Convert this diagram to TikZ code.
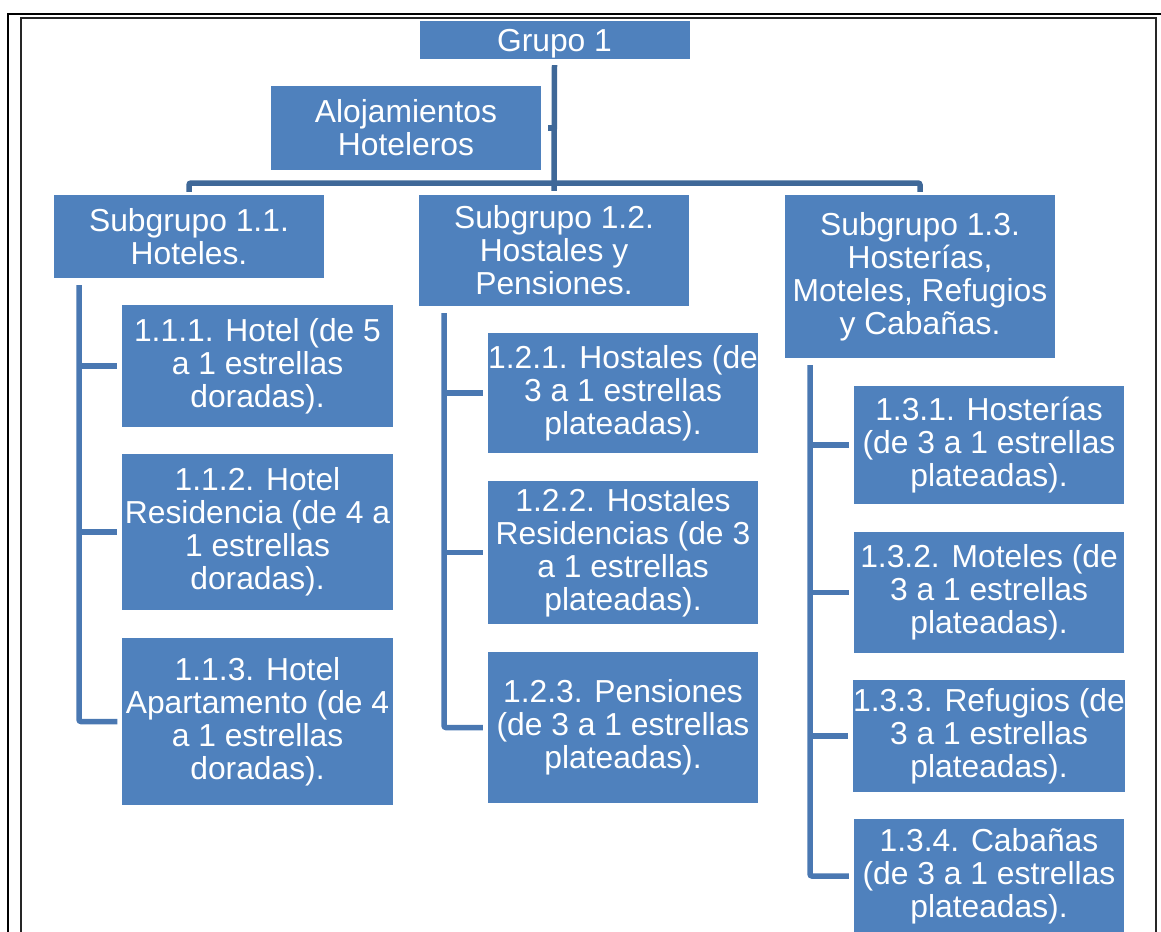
\documentclass[tikz,border=0pt]{standalone}
\usepackage{fontspec}
\setmainfont{Liberation Sans}
\usetikzlibrary{positioning, calc}

\definecolor{boxblue}{HTML}{4F81BD}
\definecolor{trunkblue}{HTML}{3F6898}
\definecolor{railblue}{HTML}{4A78B2}

\begin{document}
\begin{tikzpicture}[
    x=1bp, y=-1bp,
    every node/.style={font=\fontsize{31.8bp}{33bp}\selectfont},
    block/.style={
        fill=boxblue,
        text=white,
        minimum width=270bp,
        inner sep=0pt,
        align=center,
        execute at begin node={\rule{0pt}{29bp}}
    },
    trunk/.style={draw=trunkblue, line width=5.5bp},
    rail/.style={draw=railblue, line width=5.5bp}
]
\useasboundingbox (0,0) rectangle (1161,932);

% --- Marco ---
\draw[line width=2.2bp] (1161,14) -- (8,14) -- (8,940);
\draw[line width=1.4bp, black!85] (21,940) -- (21,18) -- (1156,18) -- (1156,940);

% --- Grupo y subgrupos ---
\node[block, minimum height=38bp] (grupo) at (554.5,40) {Grupo 1};
\node[block, minimum height=84bp] (aloj) at (406,128) {Alojamientos\\Hoteleros};

\node[block, minimum height=83bp] (sub11) at (189,236.5) {Subgrupo 1.1.\\Hoteles.};
\node[block, minimum height=111bp] (sub12) at (554,250.5) {Subgrupo 1.2.\\Hostales y\\Pensiones.};
\node[block, minimum height=163bp] (sub13) at (920,276.5) {Subgrupo 1.3.\\Hosterías,\\Moteles, Refugios\\y Cabañas.};

% --- Subgrupo 1.1 ---
\node[block, minimum height=122bp] (h111) at (257.5,366) {1.1.1. Hotel (de 5\\a 1 estrellas\\doradas).};
\node[block, minimum height=156bp] (h112) at (257.5,532) {1.1.2. Hotel\\Residencia (de 4 a\\1 estrellas\\doradas).};
\node[block, minimum height=167bp] (h113) at (257.5,721.5) {1.1.3. Hotel\\Apartamento (de 4\\a 1 estrellas\\doradas).};

% --- Subgrupo 1.2 ---
\node[block, minimum height=120bp] (h121) at (623,393) {1.2.1. Hostales (de\\3 a 1 estrellas\\plateadas).};
\node[block, minimum height=143bp] (h122) at (623,552.5) {1.2.2. Hostales\\Residencias (de 3\\a 1 estrellas\\plateadas).};
\node[block, minimum height=151bp] (h123) at (623,727.5) {1.2.3. Pensiones\\(de 3 a 1 estrellas\\plateadas).};

% --- Subgrupo 1.3 ---
\node[block, minimum height=118bp] (h131) at (989,445) {1.3.1. Hosterías\\(de 3 a 1 estrellas\\plateadas).};
\node[block, minimum height=121bp] (h132) at (989,592.5) {1.3.2. Moteles (de\\3 a 1 estrellas\\plateadas).};
\node[block, minimum height=112bp] (h133) at (989,736) {1.3.3. Refugios (de\\3 a 1 estrellas\\plateadas).};
\node[block, minimum height=114bp] (h134) at (989,876) {1.3.4. Cabañas\\(de 3 a 1 estrellas\\plateadas).};

% --- Conectores superiores ---
\coordinate (bus) at (554,183);
\draw[trunk] ($(grupo.south)+(0,6)$) -- ($(sub12.north)+(0,-4)$);
\draw[trunk] ($(aloj.east)+(7,0)$) -- (aloj.east -| grupo.south);
\draw[trunk, rounded corners=2bp] ($(sub11.north)+(0,-3)$) |- (bus) -| ($(sub13.north)+(0,-3)$);

% --- Conectores de cada subgrupo ---
\coordinate (r11) at ($(sub11.south)+(-110,7)$);
\coordinate (r12) at ($(sub12.south)+(-110,7)$);
\coordinate (r13) at ($(sub13.south)+(-110,7)$);

\draw[rail, rounded corners=2bp] (r11) |- ($(h113.west)+(-5,0)$);
\draw[rail, rounded corners=2bp] (r12) |- ($(h123.west)+(-5,0)$);
\draw[rail, rounded corners=2bp] (r13) |- ($(h134.west)+(-5,0)$);

\foreach \n in {h111,h112}
    \draw[rail] (r11 |- \n.west) -- ($(\n.west)+(-5,0)$);
\foreach \n in {h121,h122}
    \draw[rail] (r12 |- \n.west) -- ($(\n.west)+(-5,0)$);
\foreach \n in {h131,h132,h133}
    \draw[rail] (r13 |- \n.west) -- ($(\n.west)+(-5,0)$);

\end{tikzpicture}
\end{document}
